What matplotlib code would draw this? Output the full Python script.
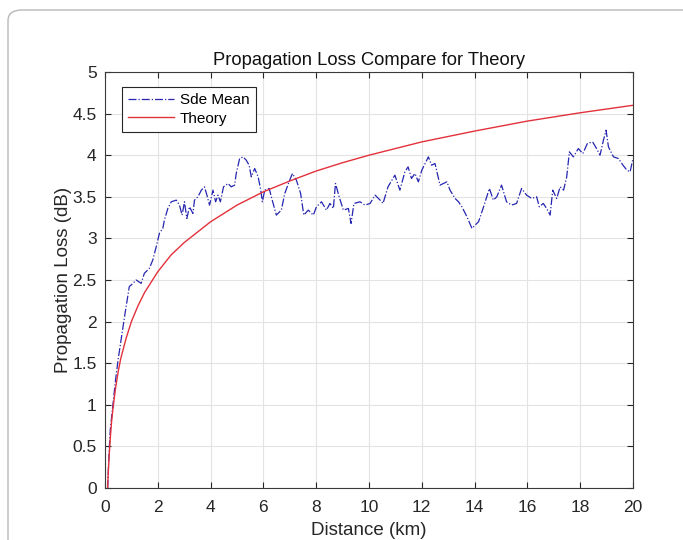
import matplotlib
matplotlib.use("Agg")
import matplotlib.pyplot as plt
from matplotlib.patches import FancyBboxPatch

# Sde mean trace
sde_x = [0.1, 0.15, 0.2, 0.3, 0.4, 0.5, 0.57, 0.76, 0.92, 1.06, 1.18, 1.37, 1.49, 1.68, 1.81,
         1.94, 2.06, 2.19, 2.25, 2.38, 2.51, 2.70, 2.82, 2.92, 3.01, 3.10, 3.20, 3.33, 3.39,
         3.52, 3.65, 3.77, 3.86, 3.96, 4.09, 4.19, 4.28, 4.37, 4.49, 4.66, 4.78, 4.91, 4.97,
         5.10, 5.23, 5.35, 5.46, 5.54, 5.67, 5.80, 5.89, 5.96, 6.05, 6.22, 6.30, 6.49, 6.68,
         6.81, 6.97, 7.10, 7.25, 7.41, 7.53, 7.70, 7.89, 8.01, 8.20, 8.39, 8.52, 8.65, 8.73,
         8.87, 9.03, 9.22, 9.32, 9.43, 9.66, 9.85, 10.04, 10.23, 10.42, 10.53, 10.72, 10.98,
         11.17, 11.36, 11.48, 11.61, 11.74, 11.87, 12.0, 12.25, 12.37, 12.50, 12.69, 12.95,
         13.07, 13.26, 13.39, 13.52, 13.71, 13.90, 14.02, 14.15, 14.34, 14.56, 14.71, 14.84,
         15.02, 15.21, 15.40, 15.59, 15.78, 15.97, 16.16, 16.35, 16.45, 16.60, 16.73, 16.86,
         16.96, 17.11, 17.24, 17.37, 17.49, 17.59, 17.74, 17.93, 18.10, 18.27, 18.47, 18.62,
         18.75, 18.88, 18.98, 19.07, 19.26, 19.45, 19.62, 19.77, 19.89, 20.0]
sde_y = [0.0, 0.4, 0.7, 1.0, 1.3, 1.55, 1.70, 2.10, 2.42, 2.46, 2.50, 2.46, 2.58, 2.64, 2.74,
         2.90, 3.06, 3.12, 3.22, 3.36, 3.44, 3.46, 3.40, 3.28, 3.44, 3.24, 3.38, 3.30, 3.46,
         3.50, 3.58, 3.62, 3.52, 3.40, 3.58, 3.44, 3.52, 3.44, 3.62, 3.66, 3.62, 3.64, 3.78,
         3.96, 3.98, 3.94, 3.88, 3.74, 3.84, 3.74, 3.60, 3.44, 3.58, 3.60, 3.50, 3.28, 3.34,
         3.54, 3.68, 3.78, 3.70, 3.54, 3.28, 3.34, 3.28, 3.38, 3.44, 3.34, 3.42, 3.36, 3.66,
         3.50, 3.34, 3.36, 3.18, 3.42, 3.44, 3.40, 3.42, 3.52, 3.46, 3.42, 3.62, 3.76,
         3.58, 3.80, 3.86, 3.72, 3.78, 3.68, 3.82, 3.98, 3.88, 3.90, 3.64, 3.68,
         3.58, 3.48, 3.44, 3.38, 3.26, 3.12, 3.16, 3.20, 3.38, 3.60, 3.46, 3.50,
         3.64, 3.44, 3.40, 3.42, 3.60, 3.52, 3.48, 3.50, 3.38, 3.42, 3.36, 3.28,
         3.58, 3.48, 3.62, 3.58, 3.74, 4.04, 3.98, 4.08, 4.02, 4.14, 4.16, 4.08,
         4.00, 4.18, 4.30, 4.10, 3.98, 3.96, 3.88, 3.82, 3.80, 3.96]

# Theory curve
theory_x = [0.1, 0.12, 0.15, 0.2, 0.25, 0.3, 0.4, 0.5, 0.6, 0.8, 1.0, 1.25, 1.5, 2, 2.5, 3,
            4, 5, 6, 7, 8, 9, 10, 12, 14, 16, 18, 20]
theory_y = [0.0, 0.16, 0.35, 0.6, 0.8, 0.95, 1.2, 1.4, 1.56, 1.8, 2.0, 2.19, 2.35, 2.6, 2.8,
            2.95, 3.2, 3.4, 3.56, 3.69, 3.81, 3.91, 4.0, 4.16, 4.29, 4.41, 4.51, 4.6]

x_ticks = [0, 2, 4, 6, 8, 10, 12, 14, 16, 18, 20]
y_ticks = [0, 0.5, 1, 1.5, 2, 2.5, 3, 3.5, 4, 4.5, 5]
y_tick_labels = ["0", "0.5", "1", "1.5", "2", "2.5", "3", "3.5", "4", "4.5", "5"]

plt.rcParams["font.family"] = ["Liberation Sans", "DejaVu Sans"]

fig = plt.figure(figsize=(6.83, 5.4), dpi=100)

# light rounded frame around the figure (runs off right and bottom edges)
frame = FancyBboxPatch((8 / 683, -0.2), 1.2, 1.2 - 10 / 540,
                       boxstyle="round,pad=0,rounding_size=0.02",
                       transform=fig.transFigure, fill=False,
                       edgecolor="#b8b8b8", linewidth=1.0)
fig.patches.append(frame)

ax = fig.add_axes([105 / 683, 1 - 488 / 540, 528 / 683, 416 / 540])

ax.plot(sde_x, sde_y, linestyle="-.", color="#2626b0", linewidth=0.9, label="Sde Mean")
ax.plot(theory_x, theory_y, linestyle="-", color="#e3313b", linewidth=1.0, label="Theory")

ax.set_xlim(0, 20)
ax.set_ylim(0, 5)
ax.set_xticks(x_ticks)
ax.set_yticks(y_ticks)
ax.set_yticklabels(y_tick_labels)
ax.tick_params(direction="in", top=True, right=True, labelsize=12.5, colors="#262626",
               length=4, width=0.8)
ax.tick_params(axis="x", pad=9)
ax.tick_params(axis="y", pad=6)
ax.grid(True, color="#e3e3e3", linewidth=0.8)
ax.set_axisbelow(True)
for s in ax.spines.values():
    s.set_color("#3a3a3a")
    s.set_linewidth(0.8)

ax.set_title("Propagation Loss Compare for Theory", fontsize=13.2, color="#111111", pad=5)
ax.set_xlabel("Distance (km)", fontsize=13.5, color="#262626", labelpad=5)
ax.set_ylabel("Propagation Loss (dB)", fontsize=13.5, color="#262626", labelpad=0)

leg = ax.legend(loc="upper left", bbox_to_anchor=(17 / 528, 401 / 416), borderaxespad=0,
                fontsize=11, fancybox=False, edgecolor="#262626", framealpha=1,
                handlelength=3.0, borderpad=0.4, labelspacing=0.3, handletextpad=0.4)
leg.get_frame().set_linewidth(0.8)

fig.savefig("out.png", dpi=100)
